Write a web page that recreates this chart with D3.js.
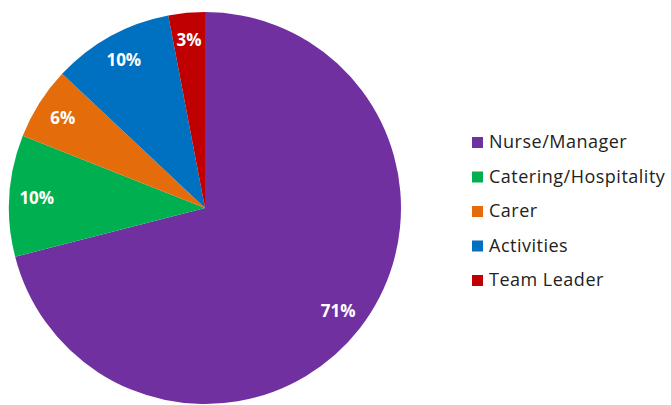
<!DOCTYPE html>
<html>
<head>
<meta charset="utf-8">
<script src="https://cdn.jsdelivr.net/npm/d3@7"></script>
<style>
  body { margin: 0; background: #fff; }
</style>
</head>
<body>
<svg id="chart"></svg>
<script>
const categories = ["Nurse/Manager", "Catering/Hospitality", "Carer", "Activities", "Team Leader"];
const values = [71, 10, 6, 10, 3];
const labels = ["71%", "10%", "6%", "10%", "3%"];
const colors = ["#7030A0", "#00B050", "#E46C0A", "#0070C0", "#C00000"];

const width = 671;
const height = 405;
const cx = 205, cy = 208, radius = 196;

const svg = d3.select("#chart")
    .attr("width", width)
    .attr("height", height)
    .attr("viewBox", [0, 0, width, height]);

const data = categories.map((c, i) => ({name: c, value: values[i], label: labels[i]}));
const color = d3.scaleOrdinal(categories, colors);

const pie = d3.pie().value(d => d.value).sort(null);
const arc = d3.arc().innerRadius(0).outerRadius(radius);
const labelArc = d3.arc().innerRadius(radius * 0.86).outerRadius(radius * 0.86);

const g = svg.append("g").attr("transform", `translate(${cx},${cy})`);

const arcs = pie(data);

g.selectAll("path")
    .data(arcs)
    .join("path")
    .attr("d", arc)
    .attr("fill", d => color(d.data.name));

g.selectAll("text")
    .data(arcs)
    .join("text")
    .attr("transform", d => `translate(${labelArc.centroid(d)})`)
    .attr("text-anchor", "middle")
    .attr("dy", "0.36em")
    .attr("fill", "#fff")
    .attr("font-family", "'Open Sans', sans-serif")
    .attr("font-weight", "bold")
    .attr("font-size", 17)
    .text(d => d.data.label);

// legend
const legend = svg.append("g")
    .attr("font-family", "'Open Sans', sans-serif")
    .attr("font-size", 18)
    .attr("letter-spacing", 0.5)
    .selectAll("g")
    .data(categories)
    .join("g")
    .attr("transform", (d, i) => `translate(472,${142 + i * 34.5})`);

legend.append("rect")
    .attr("x", 0)
    .attr("y", -5)
    .attr("width", 11)
    .attr("height", 11)
    .attr("fill", d => color(d));

legend.append("text")
    .attr("x", 17)
    .attr("dy", "0.36em")
    .attr("fill", "#222")
    .text(d => d);
</script>
</body>
</html>
